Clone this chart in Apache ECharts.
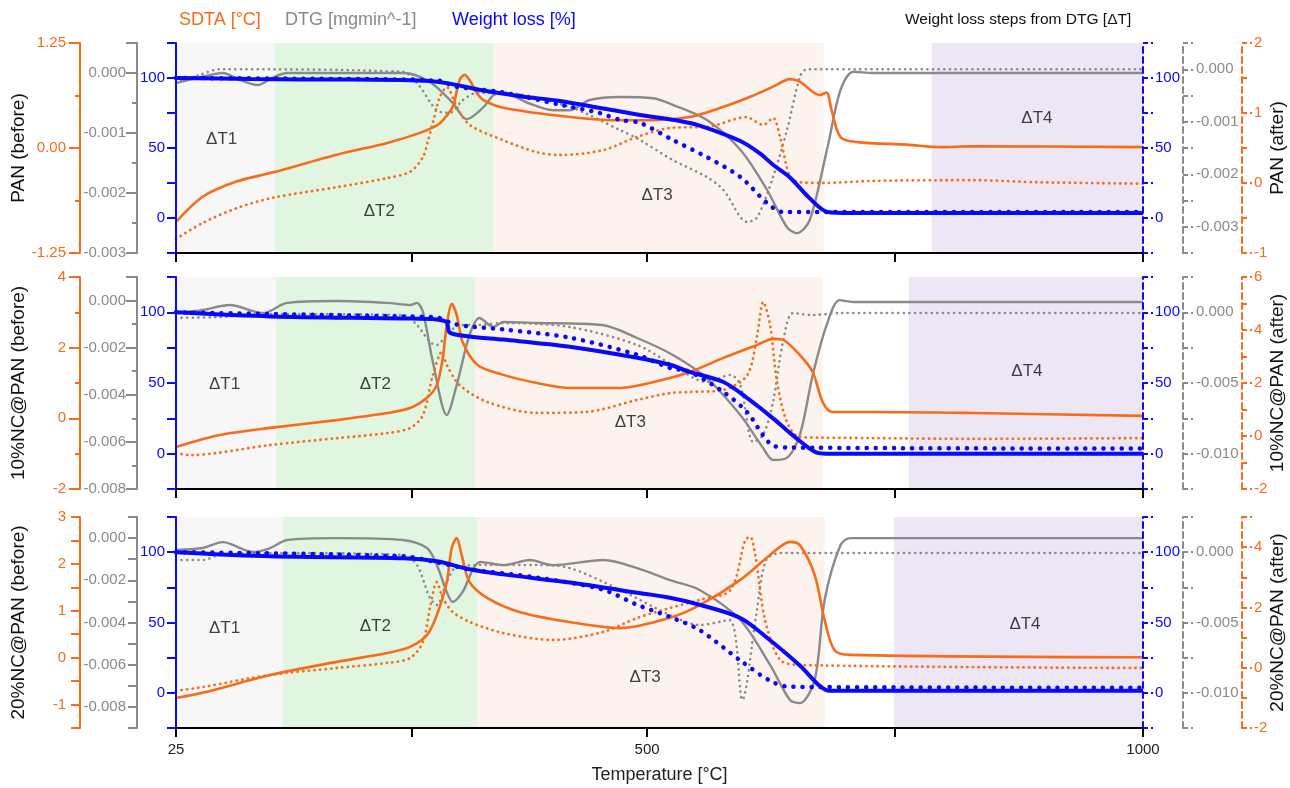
<!DOCTYPE html>
<html><head><meta charset="utf-8">
<script src="https://cdn.jsdelivr.net/npm/echarts@6/dist/echarts.min.js"></script>
<style>html,body{margin:0;padding:0;background:#fff}#c{width:1290px;height:788px}</style>
</head><body><div id="c"></div>
<script>
// ---------- data ----------
const xTicks = [25, 262.5, 500, 750, 1000];
const xLabels = [25, 500, 1000];
const leftNames = ['PAN (before)', '10%NC@PAN (before)', '20%NC@PAN (before)'];
const rightNames = ['PAN (after)', '10%NC@PAN (after)', '20%NC@PAN (after)'];
const stepLabels = ['ΔT1', 'ΔT2', 'ΔT3', 'ΔT4'];

// axis ranges [min, max, tickStep, labelStep, decimals]
const p1_orangeL = [-1.25, 1.25, 0.625, 1.25, 2];
const p1_grayL = [-0.003, 0.0005, 0.0005, 0.001, 3];
const p1_grayR = [-0.0035, 0.0005, 0.0005, 0.001, 3];
const p1_orangeR = [-1, 2, 0.5, 1, 0];
const p2_orangeL = [-2, 4, 1, 2, 0];
const p2_grayL = [-0.008, 0.001, 0.001, 0.002, 3];
const p2_grayR = [-0.0125, 0.0025, 0.0025, 0.005, 3];
const p2_orangeR = [-2, 6, 1, 2, 0];
const p3_orangeL = [-1.5, 3, 0.5, 1, 0];
const p3_grayL = [-0.009, 0.001, 0.001, 0.002, 3];
const p3_grayR = [-0.0125, 0.0025, 0.0025, 0.005, 3];
const p3_orangeR = [-2, 5, 1, 2, 0];
const wlAxis = [-25, 125, 25, 50, 0];

// DTG step ranges
const p1_steps = [[25, 125], [125, 345], [345, 678], [787, 1000]];
const p2_steps = [[25, 126], [126, 327], [327, 677], [764, 1000]];
const p3_steps = [[25, 133], [133, 329], [329, 679], [749, 1000]];
// step label anchors [T, weight-loss value]
const p1_stepPos = [[71, 56], [230, 5], [510, 16], [893, 71]];
const p2_stepPos = [[74, 49], [226, 49], [483, 22], [883, 58]];
const p3_stepPos = [[74, 46], [226, 47], [498, 11], [881, 49]];

// Panel 1 (PAN)
const p1_sdtaBefore = [[25,-0.88],[52,-0.58],[86,-0.40],[123,-0.29],[187,-0.08],[238,0.06],[271,0.18],[288,0.27],[294,0.33],[304,0.49],[311,0.81],[316,0.87],[321,0.81],[328,0.66],[335,0.57],[355,0.48],[422,0.37],[473,0.33],[493,0.33],[543,0.37],[577,0.49],[604,0.61],[627,0.73],[644,0.82],[654,0.79],[674,0.63],[681,0.66],[686,0.45],[695,0.13],[712,0.07],[762,0.04],[795,0.01],[829,0.02],[1000,0.01]];
const p1_sdtaAfter = [[25,-0.80],[52,-0.57],[86,-0.36],[123,-0.21],[187,-0.06],[238,0.07],[261,0.16],[274,0.37],[279,0.60],[284,0.86],[291,1.23],[298,1.37],[308,1.09],[321,0.83],[355,0.61],[389,0.44],[412,0.40],[456,0.47],[490,0.66],[526,0.79],[560,0.80],[600,0.94],[617,0.83],[627,0.93],[634,0.66],[644,0.09],[654,0.01],[677,0.0],[728,0.03],[829,0.04],[896,0.01],[1000,-0.01]];
const p1_dtgBefore = [[25,-0.00017],[50,-0.00007],[72,0.0],[90,-0.00012],[107,-0.0002],[122,-0.00008],[137,0.0],[254,0.0],[281,-0.00015],[304,-0.0005],[318,-0.00077],[335,-0.00057],[345,-0.00037],[355,-0.00033],[380,-0.0005],[405,-0.00062],[422,-0.00062],[442,-0.00045],[473,-0.0004],[506,-0.00042],[526,-0.00053],[560,-0.00078],[594,-0.00128],[621,-0.00195],[641,-0.00257],[651,-0.00267],[664,-0.00245],[682,-0.00123],[695,-0.00028],[708,0.00002],[728,0.0],[1000,0.0]];
const p1_dtgAfter = [[25,-0.00026],[50,-0.0001],[69,0.0],[254,-0.00005],[268,-0.00026],[288,-0.00078],[301,-0.00083],[314,-0.00059],[328,-0.00045],[355,-0.00045],[422,-0.00072],[473,-0.00116],[493,-0.00135],[526,-0.00173],[560,-0.00205],[577,-0.0023],[601,-0.00291],[611,-0.00282],[627,-0.00205],[641,-0.00116],[654,-0.00015],[661,0.0],[1000,0.0]];
const p1_wlBefore = [[25,100],[100,99.3],[150,99],[251,98.6],[281,97.9],[301,96],[332,91.4],[372,87],[412,83.6],[453,78.6],[493,73.6],[533,69.3],[553,66],[594,55],[614,46],[627,38],[644,29],[664,14],[682,4.3],[705,3.6],[1000,3.6]];
const p1_wlAfter = [[25,100],[150,99.5],[291,98],[306,94],[352,90],[412,81],[452,75],[473,70],[493,67.9],[526,55.7],[560,43.6],[594,29.3],[621,10.7],[637,4.3],[1000,4.3]];

// Panel 2 (10%NC@PAN)
const p2_sdtaBefore = [[25,-0.81],[69,-0.47],[120,-0.27],[187,-0.05],[238,0.15],[261,0.29],[278,0.58],[288,0.94],[294,1.71],[298,2.64],[303,3.24],[308,2.93],[314,2.16],[329,1.51],[355,1.23],[389,1.0],[422,0.86],[473,0.86],[493,0.94],[523,1.14],[543,1.31],[577,1.71],[611,2.08],[627,2.25],[637,2.22],[654,1.79],[667,1.31],[677,0.46],[687,0.18],[728,0.18],[829,0.15],[1000,0.07]];
const p2_sdtaAfter = [[25,-0.64],[39,-0.72],[120,-0.34],[187,-0.08],[238,0.11],[261,0.30],[274,0.79],[284,2.30],[293,3.17],[298,2.68],[311,1.92],[339,1.28],[389,0.87],[439,0.91],[490,1.36],[523,1.62],[543,1.66],[577,1.74],[601,2.30],[611,3.81],[617,5.06],[624,4.19],[631,2.04],[641,0.53],[654,-0.04],[728,-0.08],[829,-0.11],[1000,-0.08]];
const p2_dtgBefore = [[25,-0.00053],[52,-0.0004],[79,-0.00019],[113,-0.00053],[137,-0.0001],[187,-0.00002],[238,-0.0001],[261,-0.00019],[268,-0.0001],[274,-0.00049],[284,-0.00261],[298,-0.00486],[308,-0.00359],[321,-0.00146],[331,-0.00074],[345,-0.00112],[355,-0.00091],[389,-0.00095],[455,-0.00104],[490,-0.00159],[526,-0.00231],[560,-0.00329],[594,-0.00486],[617,-0.00626],[627,-0.00677],[641,-0.00668],[654,-0.00571],[667,-0.00316],[681,-0.00104],[694,0.00002],[708,-0.00006],[1000,-0.00006]];
const p2_dtgAfter = [[25,-0.0004],[69,-0.00033],[120,-0.00012],[254,-0.00019],[268,-0.0009],[281,-0.0021],[288,-0.00231],[298,-0.0016],[311,-0.0009],[329,-0.0009],[355,-0.00076],[422,-0.00104],[490,-0.00231],[526,-0.00373],[560,-0.00493],[584,-0.00443],[594,-0.00514],[607,-0.00917],[617,-0.00868],[627,-0.00634],[637,-0.0021],[647,-0.00005],[667,-0.00019],[694,-0.00005],[1000,-0.00005]];
const p2_wlBefore = [[25,100],[120,97.1],[254,95.7],[288,95],[298,92.9],[301,85.7],[321,82.9],[355,80.7],[422,75.7],[490,67.9],[523,62.9],[543,57.9],[577,50.7],[601,39.3],[627,25],[647,12.9],[671,0.7],[681,0],[1000,0]];
const p2_wlAfter = [[25,100],[254,97.1],[288,96.4],[304,92.1],[321,90],[355,87.9],[422,82.1],[490,70],[523,60.7],[543,57.9],[577,43.6],[601,29.3],[617,12.9],[627,5.7],[644,4.3],[1000,3.6]];

// Panel 3 (20%NC@PAN)
const p3_sdtaBefore = [[25,-0.86],[52,-0.75],[120,-0.37],[187,-0.09],[238,0.10],[261,0.23],[278,0.48],[288,0.91],[298,1.61],[303,2.34],[308,2.55],[313,2.19],[321,1.61],[339,1.27],[372,0.97],[422,0.76],[473,0.63],[523,0.85],[553,1.12],[594,1.66],[624,2.19],[644,2.47],[654,2.40],[669,1.76],[679,0.80],[689,0.16],[705,0.06],[1000,0.01]];
const p3_sdtaAfter = [[25,-0.77],[52,-0.64],[120,-0.24],[187,-0.01],[238,0.16],[261,0.32],[274,0.85],[281,1.98],[288,2.84],[294,2.31],[304,1.85],[321,1.52],[355,1.15],[405,0.92],[455,1.18],[490,1.65],[523,1.98],[553,2.25],[584,2.58],[599,4.24],[604,4.34],[609,3.74],[619,1.58],[634,0.26],[654,0.09],[1000,-0.01]];
const p3_dtgBefore = [[25,-0.00056],[52,-0.00047],[72,-0.00019],[103,-0.00066],[120,-0.00047],[137,-0.00009],[187,0.0],[254,-0.00009],[278,-0.00047],[288,-0.00128],[298,-0.00255],[304,-0.00303],[314,-0.00255],[325,-0.00142],[332,-0.00113],[355,-0.00128],[382,-0.00104],[405,-0.00128],[456,-0.00104],[490,-0.00142],[523,-0.00199],[553,-0.00246],[594,-0.00388],[624,-0.00601],[644,-0.00767],[654,-0.00782],[669,-0.00673],[679,-0.00293],[695,-0.00033],[705,0.0],[1000,0.0]];
const p3_dtgAfter = [[25,-0.00056],[52,-0.00056],[69,-0.0002],[120,-0.00006],[254,-0.0002],[268,-0.00091],[281,-0.00326],[288,-0.00376],[298,-0.00212],[308,-0.00106],[339,-0.00091],[389,-0.00091],[422,-0.00113],[473,-0.00269],[523,-0.00447],[553,-0.00518],[583,-0.00482],[596,-0.0105],[610,-0.00447],[620,-0.00056],[635,-0.00006],[1000,-0.00006]];
const p3_wlBefore = [[25,100],[120,97.1],[254,95.7],[288,93.5],[321,87.8],[355,84.2],[422,78.4],[490,71.2],[523,67.6],[553,62.6],[594,53.2],[624,37.4],[654,19.4],[674,5],[684,1.4],[1000,1.4]];
const p3_wlAfter = [[25,100],[254,97.1],[288,92.8],[321,87.8],[389,82],[455,73.4],[490,62.6],[523,54],[553,44.6],[594,23],[624,8.6],[644,4.3],[1000,3.6]];

// ---------- styling / building ----------
const ORANGE = '#f96a19', GRAY = '#8a8a8a', BLUE = '#0808ff';
const FONT = "'Liberation Sans', Arial, sans-serif";
const stepColors = ['#f7f7f7', '#e0f6e1', '#fcf3ee', '#ede6f4'];

const panels = [
  {axes: [p1_orangeL, p1_grayL, wlAxis, wlAxis, p1_grayR, p1_orangeR], steps: p1_steps, stepPos: p1_stepPos,
   s: [p1_dtgBefore, p1_dtgAfter, p1_sdtaBefore, p1_sdtaAfter, p1_wlBefore, p1_wlAfter]},
  {axes: [p2_orangeL, p2_grayL, wlAxis, wlAxis, p2_grayR, p2_orangeR], steps: p2_steps, stepPos: p2_stepPos,
   s: [p2_dtgBefore, p2_dtgAfter, p2_sdtaBefore, p2_sdtaAfter, p2_wlBefore, p2_wlAfter]},
  {axes: [p3_orangeL, p3_grayL, wlAxis, wlAxis, p3_grayR, p3_orangeR], steps: p3_steps, stepPos: p3_stepPos,
   s: [p3_dtgBefore, p3_dtgAfter, p3_sdtaBefore, p3_sdtaAfter, p3_wlBefore, p3_wlAfter]}
];
const grids = [
  {left: 176, right: 147, top: 43, height: 210},
  {left: 176, right: 147, top: 277, height: 212},
  {left: 176, right: 147, top: 517, height: 211}
];

function fmt(v, dec) { if (Math.abs(v) < 1e-12) v = 0; return v.toFixed(dec); }
function isMult(v, s) { const k = v / s; return Math.abs(k - Math.round(k)) < 1e-6; }

function yAx(gi, spec, color, pos, offset, dashed, margin, name, nameGap) {
  const [min, max, step, lstep, dec] = spec;
  const aligned = isMult(min, lstep) && color !== BLUE;
  const split = Math.round(lstep / step);
  return {
    type: 'value', gridIndex: gi, position: pos, offset, min, max, z: 10,
    interval: aligned ? lstep : step,
    axisLine: {show: true, onZero: false, lineStyle: {color, width: 2, type: dashed ? [6, 4] : 'solid'}},
    axisTick: {show: true, inside: false, length: dashed ? 10 : (aligned ? 11 : 9),
      lineStyle: {color, width: 2, type: dashed ? [5, 3] : 'solid'}},
    minorTick: {show: aligned && split > 1, splitNumber: split, length: 5,
      lineStyle: {color, width: 2, type: dashed ? [5, 3] : 'solid'}},
    axisLabel: {show: true, margin, color, fontSize: 15, fontFamily: FONT, hideOverlap: false,
      showMinLabel: true, showMaxLabel: true,
      formatter: v => isMult(v, lstep) ? fmt(v, dec) : ''},
    splitLine: {show: false}, minorSplitLine: {show: false},
    name: name || '', nameLocation: 'middle', nameGap: nameGap || 0, nameRotate: 90,
    nameMoveOverlap: false,
    nameTextStyle: {color: '#111', fontSize: 19, fontFamily: FONT}
  };
}

const xAxis = [], yAxis = [], series = [];
panels.forEach((p, gi) => {
  xAxis.push({
    type: 'value', gridIndex: gi, min: 25, max: 1000, z: 10,
    axisLine: {show: true, onZero: false, lineStyle: {color: '#000', width: 2}},
    axisTick: {show: true, customValues: xTicks, length: 9, lineStyle: {color: '#000', width: 2}},
    axisLabel: {show: gi === 2, customValues: xLabels, color: '#222', fontSize: 15, margin: 14, fontFamily: FONT,
      formatter: v => String(v)},
    splitLine: {show: false},
    name: gi === 2 ? 'Temperature [°C]' : '', nameLocation: 'middle', nameGap: 38, nameMoveOverlap: false,
    nameTextStyle: {fontSize: 18, color: '#222', fontFamily: FONT}
  });
  const a = p.axes;
  yAxis.push(yAx(gi, a[0], ORANGE, 'left', 96, false, 14, leftNames[gi], 52));
  yAxis.push(yAx(gi, a[1], GRAY, 'left', 39, false, 11));
  yAxis.push(yAx(gi, a[2], BLUE, 'left', 0, false, 11));
  yAxis.push(yAx(gi, a[3], BLUE, 'right', 0, true, 12));
  yAxis.push(yAx(gi, a[4], GRAY, 'right', 40, true, 13));
  yAxis.push(yAx(gi, a[5], ORANGE, 'right', 99, true, 12, rightNames[gi], 26));
  const base = gi * 6;
  // shaded steps
  series.push({
    type: 'line', xAxisIndex: gi, yAxisIndex: base + 2, data: [], z: 1, silent: true,
    markArea: {silent: true, data: p.steps.map((r, i) => [{xAxis: r[0], itemStyle: {color: stepColors[i]}}, {xAxis: r[1]}])}
  });
  const mk = (data, yi, color, width, dash, z) => ({
    type: 'line', xAxisIndex: gi, yAxisIndex: base + yi, data, symbol: 'none', smooth: 0.3, z,
    silent: true,
    lineStyle: {color, width, type: dash || 'solid', cap: dash ? 'round' : 'butt'}
  });
  series.push(mk(p.s[0], 1, GRAY, 2.4, null, 3));
  series.push(mk(p.s[1], 4, GRAY, 2.6, [0.1, 5.5], 3));
  series.push(mk(p.s[2], 0, ORANGE, 2.6, null, 4));
  series.push(mk(p.s[3], 5, ORANGE, 2.8, [0.1, 5.5], 4));
  series.push(mk(p.s[4], 2, BLUE, 4, null, 5));
  series.push(mk(p.s[5], 3, BLUE, 4.5, [0.1, 9], 5));
  series.push({
    type: 'scatter', xAxisIndex: gi, yAxisIndex: base + 2, z: 6, silent: true,
    symbolSize: 1, itemStyle: {color: 'rgba(0,0,0,0)'},
    data: p.stepPos.map((d, i) => [d[0], d[1], stepLabels[i]]),
    label: {show: true, position: 'inside', formatter: q => q.data[2], color: '#111', fontSize: 17, fontFamily: FONT}
  });
});

const chart = echarts.init(document.getElementById('c'), null, {renderer: 'canvas'});
chart.setOption({
  animation: false,
  backgroundColor: '#fff',
  textStyle: {fontFamily: FONT},
  grid: grids.map(g => Object.assign({containLabel: false, outerBoundsMode: 'none'}, g)),
  xAxis, yAxis, series,
  graphic: [
    {type: 'text', left: 179, top: 11, style: {text: 'SDTA [°C]', fill: ORANGE, fontSize: 18, fontFamily: FONT}},
    {type: 'text', left: 285, top: 11, style: {text: 'DTG [mgmin^-1]', fill: GRAY, fontSize: 18, fontFamily: FONT}},
    {type: 'text', left: 452, top: 11, style: {text: 'Weight loss [%]', fill: BLUE, fontSize: 18, fontFamily: FONT}},
    {type: 'text', left: 905, top: 12, style: {text: 'Weight loss steps from DTG [ΔT]', fill: '#111', fontSize: 15.5, fontFamily: FONT}}
  ]
});
</script>
</body></html>
